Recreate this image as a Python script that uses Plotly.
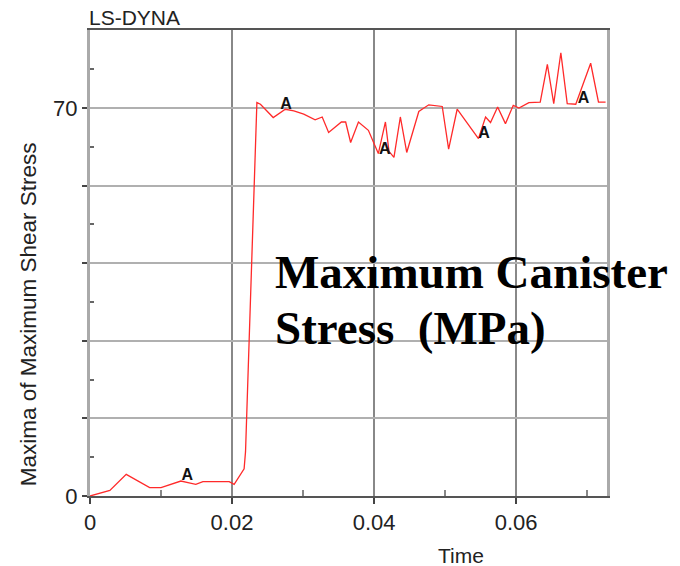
import plotly.graph_objects as go

# Curve data (time in s, stress)
time = [0, 0.0028, 0.0051, 0.0084, 0.0100, 0.0128, 0.0138, 0.0149, 0.0159, 0.0196, 0.0203,
        0.0217, 0.0219, 0.0232, 0.0235, 0.0240, 0.0258, 0.0275, 0.0287, 0.0301, 0.0317,
        0.0327, 0.0336, 0.0354, 0.0360, 0.0367, 0.0378, 0.0392, 0.0406, 0.0416, 0.0421,
        0.0428, 0.0437, 0.0446, 0.0463, 0.0477, 0.0496, 0.0505, 0.0517, 0.0547, 0.0557,
        0.0564, 0.0574, 0.0585, 0.0596, 0.0604, 0.0618, 0.0634, 0.0644, 0.0653, 0.0663,
        0.0672, 0.0684, 0.0705, 0.0716, 0.0726]
stress = [0, 1.0, 3.9, 1.5, 1.5, 2.7, 2.4, 2.1, 2.6, 2.6, 2.1,
          4.9, 8, 58, 71, 70.7, 68.3, 69.8, 69.5, 68.9, 67.9,
          68.4, 65.6, 67.5, 67.5, 63.8, 67.5, 66.0, 61.8, 67.5, 62.2,
          61.1, 68.4, 62.0, 69.4, 70.6, 70.3, 62.6, 69.8, 64.5, 68.4,
          67.4, 70.2, 67.2, 70.5, 70.0, 71.0, 71.1, 77.9, 70.8, 80.0,
          70.8, 70.7, 78.1, 71.1, 71.1]

# Curve label markers ("A")
marker_t = [0.0137, 0.0276, 0.0415, 0.0555, 0.0695]
marker_v = [3.6, 70.5, 62.4, 65.4, 71.7]

x_tickvals = [0, 0.02, 0.04, 0.06]
x_ticktext = ["0", "0.02", "0.04", "0.06"]
x_minor = [0.01, 0.03, 0.05, 0.07]
y_tickvals = [0, 14, 28, 42, 56, 70]
y_ticktext = ["0", "", "", "", "", "70"]
y_minor = [7, 21, 35, 49, 63, 77]

SANS = "Liberation Sans, Arial, sans-serif"
SERIF = "Liberation Serif, Times New Roman, serif"

fig = go.Figure()
fig.add_trace(go.Scatter(x=time, y=stress, mode="lines",
                         line=dict(color="#ff2a2a", width=1.3), hoverinfo="skip"))
fig.add_trace(go.Scatter(x=marker_t, y=marker_v, mode="text", text=["<b>A</b>"] * len(marker_t),
                         textfont=dict(family=SANS, size=16, color="#111"),
                         textposition="middle center", hoverinfo="skip"))

fig.update_layout(
    width=680, height=566,
    margin=dict(l=90, r=73, t=30, b=70),
    paper_bgcolor="white", plot_bgcolor="white",
    showlegend=False,
    font=dict(family=SANS, size=21, color="#222"),
    xaxis=dict(range=[0, 0.0728], tickvals=x_tickvals, ticktext=x_ticktext,
               showgrid=True, gridcolor="#888", gridwidth=1.5,
               showline=True, linecolor="#555", linewidth=2, mirror=True,
               ticks="outside", ticklen=6, tickcolor="#444", tickwidth=1.5,
               minor=dict(tickvals=x_minor, ticks="inside", ticklen=6,
                          tickcolor="#888", showgrid=False),
               zeroline=False, tickfont=dict(size=22)),
    yaxis=dict(range=[0, 84.1], tickvals=y_tickvals, ticktext=y_ticktext,
               showgrid=True, gridcolor="#b0b0b0", gridwidth=2,
               showline=True, linecolor="#aaa", linewidth=3, mirror=True,
               ticks="outside", ticklen=5, tickcolor="#444", tickwidth=1.5,
               minor=dict(tickvals=y_minor, ticks="inside", ticklen=4,
                          tickcolor="#666", showgrid=False),
               zeroline=False, tickfont=dict(size=22)),
    annotations=[
        dict(text="LS-DYNA", xref="paper", yref="paper", x=-0.006, y=1.026,
             xanchor="left", yanchor="middle", showarrow=False,
             font=dict(family=SANS, size=21, color="#222")),
        dict(text="Maxima of Maximum Shear Stress", xref="paper", yref="paper",
             x=-0.12, y=0.39, xanchor="center", yanchor="middle", textangle=-90,
             showarrow=False, font=dict(family=SANS, size=22.5, color="#222")),
        dict(text="Time", xref="paper", yref="paper", x=0.718, y=-0.127,
             xanchor="center", yanchor="middle", showarrow=False,
             font=dict(family=SANS, size=21, color="#222")),
        dict(text="<b>Maximum Canister</b>", xref="paper", yref="paper", x=0.354, y=0.48,
             xanchor="left", yanchor="middle", showarrow=False,
             font=dict(family=SERIF, size=47, color="black")),
        dict(text="<b>Stress  (MPa)</b>", xref="paper", yref="paper", x=0.354, y=0.36,
             xanchor="left", yanchor="middle", showarrow=False,
             font=dict(family=SERIF, size=47, color="black")),
    ],
)

fig.write_html("out.html")
